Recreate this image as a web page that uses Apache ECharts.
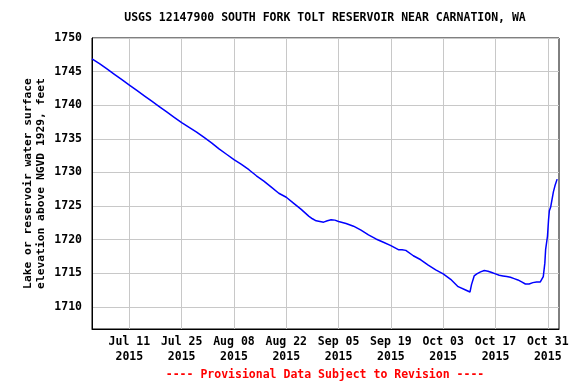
<!DOCTYPE html>
<html>
<head>
<meta charset="utf-8">
<script src="https://cdn.jsdelivr.net/npm/echarts@6/dist/echarts.min.js"></script>
<style>html,body{margin:0;padding:0;background:#fff}#c{width:576px;height:384px}</style>
</head>
<body>
<div id="c"></div>
<script>
const dates = [
 '2015-07-01 00:00','2015-07-03 00:00','2015-07-05 00:00','2015-07-07 00:00','2015-07-09 00:00',
 '2015-07-11 00:00','2015-07-13 00:00','2015-07-15 00:00','2015-07-17 00:00','2015-07-19 00:00',
 '2015-07-21 00:00','2015-07-23 00:00','2015-07-25 00:00','2015-07-27 00:00','2015-07-29 00:00',
 '2015-07-31 00:00','2015-08-02 00:00','2015-08-04 00:00','2015-08-06 00:00','2015-08-08 00:00',
 '2015-08-10 00:00','2015-08-12 00:00','2015-08-14 00:00','2015-08-16 00:00','2015-08-18 00:00',
 '2015-08-20 00:00','2015-08-22 00:00','2015-08-24 00:00','2015-08-26 00:00','2015-08-28 00:00',
 '2015-08-29 00:00','2015-08-30 00:00','2015-08-31 00:00','2015-09-01 00:00','2015-09-02 00:00',
 '2015-09-03 00:00','2015-09-04 00:00','2015-09-05 00:00','2015-09-07 00:00','2015-09-09 00:00',
 '2015-09-11 00:00','2015-09-13 00:00','2015-09-15 00:00','2015-09-17 00:00','2015-09-19 00:00',
 '2015-09-21 00:00','2015-09-22 00:00','2015-09-23 00:00','2015-09-25 00:00','2015-09-27 00:00',
 '2015-09-29 00:00','2015-10-01 00:00','2015-10-03 00:00','2015-10-05 00:00','2015-10-07 00:00',
 '2015-10-09 00:00','2015-10-10 04:00','2015-10-10 14:00','2015-10-11 07:00','2015-10-12 00:00',
 '2015-10-13 00:00','2015-10-14 00:00','2015-10-15 00:00','2015-10-16 00:00','2015-10-17 00:00',
 '2015-10-18 00:00','2015-10-19 00:00','2015-10-20 00:00','2015-10-21 00:00','2015-10-22 00:00',
 '2015-10-23 00:00','2015-10-24 00:00','2015-10-25 00:00','2015-10-26 00:00','2015-10-27 00:00',
 '2015-10-28 00:00','2015-10-29 00:00','2015-10-29 10:00','2015-10-29 19:00','2015-10-30 05:00',
 '2015-10-30 10:00','2015-10-30 22:00','2015-10-31 05:00','2015-10-31 10:00','2015-10-31 19:00',
 '2015-11-01 12:00','2015-11-01 22:00','2015-11-02 12:00'
];
const levels = [
 1746.9,1746.2,1745.4,1744.6,1743.8,
 1743.0,1742.2,1741.4,1740.6,1739.8,
 1739.0,1738.2,1737.4,1736.7,1736.0,
 1735.2,1734.4,1733.5,1732.7,1731.9,
 1731.2,1730.4,1729.5,1728.7,1727.8,
 1726.9,1726.3,1725.4,1724.5,1723.5,
 1723.1,1722.8,1722.7,1722.6,1722.8,
 1722.95,1722.9,1722.7,1722.4,1722.0,
 1721.4,1720.7,1720.1,1719.6,1719.1,
 1718.5,1718.5,1718.4,1717.6,1717.0,
 1716.2,1715.5,1714.9,1714.1,1713.0,
 1712.5,1712.2,1713.3,1714.6,1714.9,
 1715.2,1715.4,1715.3,1715.1,1714.9,
 1714.7,1714.6,1714.5,1714.4,1714.2,
 1714.0,1713.7,1713.4,1713.4,1713.6,
 1713.7,1713.7,1713.8,1714.5,1716.5,
 1718.5,1720.5,1723.0,1724.3,1724.9,
 1727.1,1728.0,1729.0
];
const xTickDates = ['2015-07-11','2015-07-25','2015-08-08','2015-08-22','2015-09-05','2015-09-19','2015-10-03','2015-10-17','2015-10-31'];
const xTickLabels = ['Jul 11\n2015','Jul 25\n2015','Aug 08\n2015','Aug 22\n2015','Sep 05\n2015','Sep 19\n2015','Oct 03\n2015','Oct 17\n2015','Oct 31\n2015'];
const yTicks = [1710,1715,1720,1725,1730,1735,1740,1745,1750];
const yTickLabels = ['1710','1715','1720','1725','1730','1735','1740','1745','1750'];
const xStart = '2015-07-01 00:00';
const xEnd = '2015-11-03 00:00';

const t0 = Date.parse(xStart.replace(' ','T') + ':00Z');
function toDay(s){ const iso = s.length <= 10 ? s + 'T00:00:00Z' : s.replace(' ','T') + ':00Z'; return (Date.parse(iso) - t0) / 86400000; }
const xTickDays = xTickDates.map(toDay);
const seriesData = dates.map((d,i) => [toDay(d), levels[i]]);

const FONT = 'DejaVu Sans Mono';
const chart = echarts.init(document.getElementById('c'), null, {renderer:'canvas'});
chart.setOption({
  animation: false,
  backgroundColor: '#fff',
  grid: {left: 92, right: 17, top: 38, bottom: 55, show: true, borderColor: '#000', borderWidth: 1, backgroundColor: '#fff'},
  graphic: [
    {type:'text', x: 325, y: 18, style:{text:'USGS 12147900 SOUTH FORK TOLT RESERVOIR NEAR CARNATION, WA', font:'bold 11.5px "DejaVu Sans Mono"', fill:'#000', align:'center', verticalAlign:'middle'}},
    {type:'text', x: 325, y: 375, style:{text:'---- Provisional Data Subject to Revision ----', font:'bold 11.5px "DejaVu Sans Mono"', fill:'#ff0000', align:'center', verticalAlign:'middle'}}
  ],
  xAxis: {
    type: 'value', min: toDay(xStart), max: toDay(xEnd),
    axisLine: {show: true, lineStyle: {color: '#000', width: 1}},
    axisTick: {show: false, customValues: xTickDays},
    axisLabel: {customValues: xTickDays, margin: 6, color: '#000', fontFamily: FONT, fontWeight: 'bold', fontSize: 11.5, lineHeight: 15,
      formatter: v => { const i = xTickDays.findIndex(d => Math.abs(d - v) < 1e-6); return i >= 0 ? xTickLabels[i] : ''; }},
    splitLine: {show: true, lineStyle: {color: '#c8c8c8', width: 1}}
  },
  yAxis: {
    type: 'value', min: 1706.7, max: 1750,
    name: 'Lake or reservoir water surface\nelevation above NGVD 1929, feet',
    nameLocation: 'middle', nameGap: 44, nameRotate: 90, nameMoveOverlap: false,
    nameTextStyle: {color: '#000', fontFamily: FONT, fontWeight: 'bold', fontSize: 11.3, lineHeight: 13},
    axisLine: {show: true, lineStyle: {color: '#000', width: 1}},
    axisTick: {show: false, customValues: yTicks},
    axisLabel: {customValues: yTicks, margin: 10, color: '#000', fontFamily: FONT, fontWeight: 'bold', fontSize: 11.5,
      formatter: v => { const i = yTicks.findIndex(t => Math.abs(t - v) < 1e-6); return i >= 0 ? yTickLabels[i] : ''; }},
    splitLine: {show: true, lineStyle: {color: '#c8c8c8', width: 1}}
  },
  series: [{
    type: 'line', data: seriesData, showSymbol: false, symbol: 'none',
    lineStyle: {color: '#0000ff', width: 1.5}, z: 3
  }]
});
</script>
</body>
</html>
